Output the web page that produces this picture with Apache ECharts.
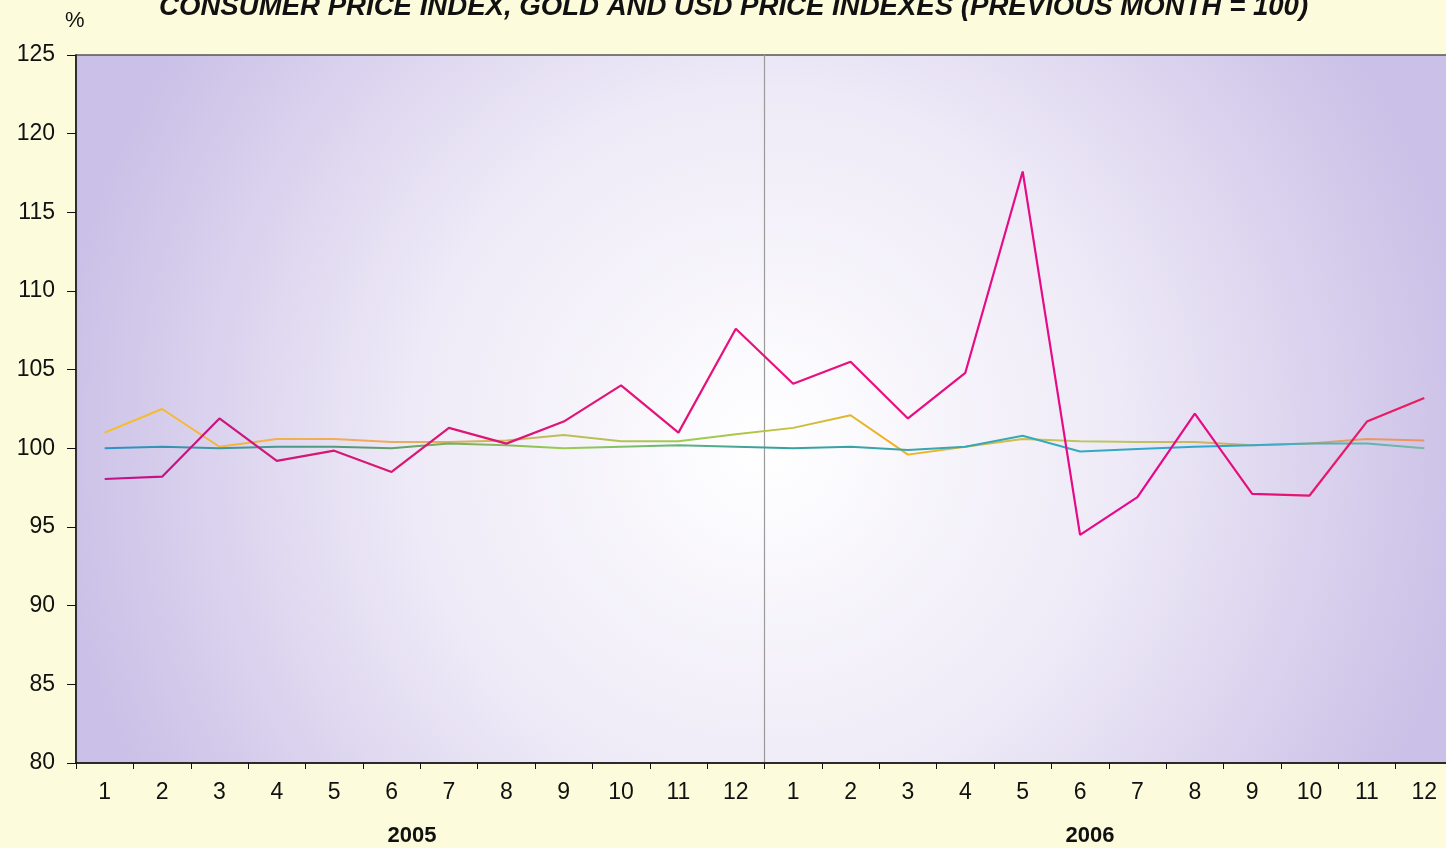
<!DOCTYPE html>
<html>
<head>
<meta charset="utf-8">
<script src="https://cdn.jsdelivr.net/npm/echarts@6/dist/echarts.min.js"></script>
<style>
html,body{margin:0;padding:0;background:#fcfbdb;overflow:hidden;}
#chart{width:1453px;height:848px;}
</style>
</head>
<body>
<div id="chart"></div>
<script>
const months = ['1','2','3','4','5','6','7','8','9','10','11','12','1','2','3','4','5','6','7','8','9','10','11','12'];
const years = ['2005','2006'];
const goldIndex = [98.05,98.2,101.9,99.2,99.85,98.5,101.3,100.3,101.7,104.0,101.0,107.6,
                   104.1,105.5,101.9,104.8,117.6,94.5,96.9,102.2,97.1,97.0,101.7,103.2];
const usdIndex = [101.0,102.5,100.1,100.6,100.6,100.4,100.4,100.5,100.85,100.45,100.45,100.9,
                  101.3,102.1,99.6,100.1,100.6,100.45,100.4,100.4,100.2,100.3,100.6,100.5];
const cpiIndex = [100.0,100.1,100.0,100.1,100.1,100.0,100.3,100.2,100.0,100.1,100.2,100.1,
                  100.0,100.1,99.9,100.1,100.8,99.8,99.95,100.1,100.2,100.3,100.3,100.0];
const yTicks = {min:80, max:125, interval:5};
const titleText = 'CONSUMER PRICE INDEX, GOLD AND USD PRICE INDEXES (PREVIOUS MONTH = 100)';

const chart = echarts.init(document.getElementById('chart'));
const font = 'Liberation Sans, Arial, sans-serif';
chart.setOption({
  backgroundColor:'#fcfbdb',
  animation:false,
  title:{
    text:titleText, left:154, top:-12,
    textStyle:{fontFamily:font, fontSize:27.6, fontWeight:'bold', fontStyle:'italic', color:'#111'}
  },
  graphic:[
    {type:'text', left:65, top:10, style:{text:'%', font:'22px '+font, fill:'#111'}},
    {type:'text', x:412, y:836, style:{text:years[0], font:'bold 22px '+font, fill:'#111', textAlign:'center', textVerticalAlign:'middle'}},
    {type:'text', x:1090, y:836, style:{text:years[1], font:'bold 22px '+font, fill:'#111', textAlign:'center', textVerticalAlign:'middle'}}
  ],
  grid:{
    left:76, right:0, top:55, bottom:85, show:true,
    borderColor:'#555', borderWidth:1.5,
    backgroundColor:{type:'radial', x:0.5, y:0.55, r:1.0,
      colorStops:[{offset:0,color:'#ffffff'},{offset:0.5,color:'#eeeaf7'},{offset:1,color:'#cbc0e7'}]}
  },
  xAxis:[
    {type:'category', data:months, boundaryGap:true,
     axisLine:{lineStyle:{color:'#111', width:1.5}},
     axisTick:{show:true, length:6, lineStyle:{color:'#111'}},
     axisLabel:{fontFamily:font, fontSize:23, color:'#111', margin:18, interval:0},
     splitLine:{show:false}},
    {type:'category', data:years, position:'bottom', boundaryGap:true,
     axisLine:{show:false}, axisTick:{show:false}, axisLabel:{show:false},
     splitLine:{show:true, lineStyle:{color:'#9a9a9a', width:1.2}}}
  ],
  yAxis:{
    type:'value', min:yTicks.min, max:yTicks.max, interval:yTicks.interval,
    axisLine:{show:true, lineStyle:{color:'#111', width:1.5}},
    axisTick:{show:true, inside:false, length:9, lineStyle:{color:'#111'}},
    axisLabel:{fontFamily:font, fontSize:23, color:'#111', margin:21},
    splitLine:{show:false}
  },
  series:[
    {name:'CPI', type:'line', data:cpiIndex, symbol:'none', z:3,
     lineStyle:{width:2, color:{type:'linear', x:0, y:0, x2:1, y2:0,
       colorStops:[{offset:0,color:'#2a92c8'},{offset:0.2,color:'#5a9a70'},{offset:0.35,color:'#9ccc50'},
                   {offset:0.5,color:'#3aa0a0'},{offset:0.7,color:'#36aab8'},{offset:0.85,color:'#2aa8d0'},{offset:1,color:'#7ab8a0'}]}}},
    {name:'USD', type:'line', data:usdIndex, symbol:'none', z:2,
     lineStyle:{width:2, color:{type:'linear', x:0, y:0, x2:1, y2:0,
       colorStops:[{offset:0,color:'#f5c020'},{offset:0.2,color:'#f2a860'},{offset:0.45,color:'#9ccc50'},
                   {offset:0.6,color:'#f5b020'},{offset:0.75,color:'#b8c860'},{offset:1,color:'#f09060'}]}}},
    {name:'Gold', type:'line', data:goldIndex, symbol:'none', z:4,
     lineStyle:{width:2.2, color:{type:'linear', x:0, y:0, x2:1, y2:0,
       colorStops:[{offset:0,color:'#c0128a'},{offset:0.2,color:'#d81870'},{offset:0.5,color:'#e8107e'},
                   {offset:0.8,color:'#e6088a'},{offset:1,color:'#e8205a'}]}}}
  ]
});
</script>
</body>
</html>
